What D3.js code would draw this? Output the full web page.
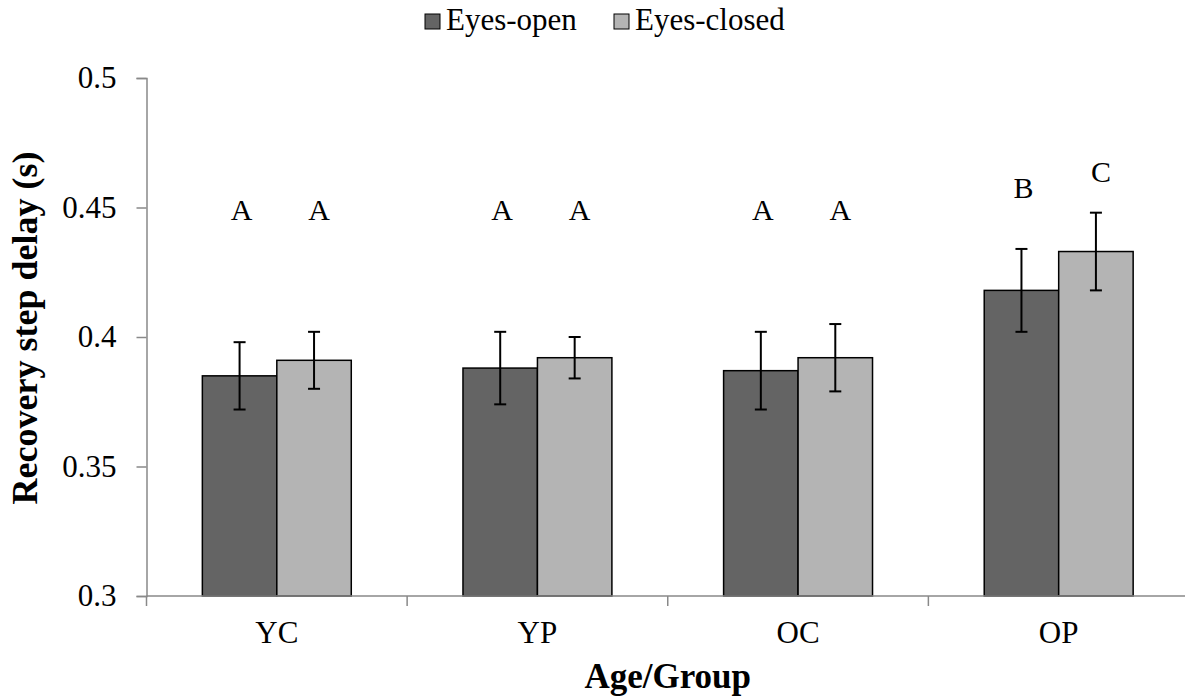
<!DOCTYPE html>
<html>
<head>
<meta charset="utf-8">
<script src="https://cdn.jsdelivr.net/npm/d3@7"></script>
<style>
  html, body { margin: 0; padding: 0; background: #fff; }
  svg { display: block; }
  svg text { font-family: "Liberation Serif", "Times New Roman", Times, "DejaVu Serif", serif !important; fill: #000; }
</style>
</head>
<body>
<svg id="chart" width="1185" height="698"></svg>
<script>
const categories = ["YC", "YP", "OC", "OP"];
const seriesNames = ["Eyes-open", "Eyes-closed"];
const eyesOpen = [0.385, 0.388, 0.387, 0.418];
const eyesClosed = [0.391, 0.392, 0.392, 0.433];
const errOpen = [0.013, 0.014, 0.015, 0.016];
const errClosed = [0.011, 0.008, 0.013, 0.015];
const lettersOpen = ["A", "A", "A", "B"];
const lettersClosed = ["A", "A", "A", "C"];
const letterLevelOpen = [0.445, 0.445, 0.445, 0.4535];
const letterLevelClosed = [0.445, 0.445, 0.445, 0.4598];
const yTicks = [0.3, 0.35, 0.4, 0.45, 0.5];
const yTickLabels = ["0.3", "0.35", "0.4", "0.45", "0.5"];
const xTitle = "Age/Group";
const yTitle = "Recovery step delay (s)";

(function () {
const colors = { "Eyes-open": "#646464", "Eyes-closed": "#b4b4b4" };
const letterShift = { "Eyes-open": 2, "Eyes-closed": 5 };
const axisColor = "#898989";
const serif = "'Liberation Serif', 'Times New Roman', Times, 'DejaVu Serif', serif";

const svg = d3.select("#chart");
const pLeft = 146.5, pRight = 1189, pTop = 78, pBottom = 596;

const x = d3.scaleBand().domain(categories).range([pLeft, pRight]).paddingInner(0).paddingOuter(0);
const xs = d3.scaleBand().domain(seriesNames).range([0, x.bandwidth()]).paddingInner(0).paddingOuter(0.75);
const y = d3.scaleLinear().domain([0.3, 0.5]).range([pBottom, pTop]);

const rows = categories.map((c, i) => ({
  cat: c,
  vals: [
    { s: "Eyes-open", v: eyesOpen[i], e: errOpen[i], l: lettersOpen[i], ll: letterLevelOpen[i] },
    { s: "Eyes-closed", v: eyesClosed[i], e: errClosed[i], l: lettersClosed[i], ll: letterLevelClosed[i] }
  ]
}));

// Bars
const groups = svg.append("g").selectAll("g").data(rows).join("g")
  .attr("transform", d => `translate(${x(d.cat)},0)`);

groups.selectAll("rect").data(d => d.vals).join("rect")
  .attr("x", d => xs(d.s))
  .attr("y", d => y(d.v))
  .attr("width", xs.bandwidth())
  .attr("height", d => y(0.3) - y(d.v))
  .attr("fill", d => colors[d.s])
  .attr("stroke", "#000")
  .attr("stroke-width", 1.5);

// Axes
const yAxis = d3.axisLeft(y).tickValues(yTicks)
  .tickFormat((d, i) => yTickLabels[i]).tickSize(10).tickPadding(20);
const gy = svg.append("g").attr("transform", `translate(${pLeft},0)`).call(yAxis);
gy.attr("font-family", null).attr("font-size", null);
gy.select(".domain").attr("stroke", axisColor).attr("stroke-width", 1.5);
gy.selectAll(".tick line").attr("stroke", axisColor).attr("stroke-width", 1.5);
gy.selectAll(".tick text").style("font-size", "31px").style("font-family", serif).attr("fill", "#000");

const xAxisG = svg.append("g").attr("transform", `translate(0,${pBottom})`);
xAxisG.append("line").attr("x1", pLeft).attr("x2", pRight).attr("stroke", axisColor).attr("stroke-width", 1.5);
const boundaries = categories.map(c => x(c)).concat([pRight]);
xAxisG.selectAll("line.tk").data(boundaries).join("line").attr("class", "tk")
  .attr("x1", d => d).attr("x2", d => d).attr("y1", 0).attr("y2", 10)
  .attr("stroke", axisColor).attr("stroke-width", 1.5);
xAxisG.selectAll("text.cat").data(categories).join("text").attr("class", "cat")
  .attr("x", d => x(d) + x.bandwidth() / 2)
  .attr("y", 47)
  .attr("text-anchor", "middle")
  .style("font-size", "31px").style("font-family", serif)
  .text(d => d);

// Error bars
const eb = groups.selectAll("g.eb").data(d => d.vals).join("g").attr("class", "eb");
eb.append("line")
  .attr("x1", d => xs(d.s) + xs.bandwidth() / 2).attr("x2", d => xs(d.s) + xs.bandwidth() / 2)
  .attr("y1", d => y(d.v + d.e)).attr("y2", d => y(d.v - d.e))
  .attr("stroke", "#000").attr("stroke-width", 2);
eb.selectAll("line.cap").data(d => [{ d, v: d.v + d.e }, { d, v: d.v - d.e }]).join("line").attr("class", "cap")
  .attr("x1", c => xs(c.d.s) + xs.bandwidth() / 2 - 6).attr("x2", c => xs(c.d.s) + xs.bandwidth() / 2 + 6)
  .attr("y1", c => y(c.v)).attr("y2", c => y(c.v))
  .attr("stroke", "#000").attr("stroke-width", 2);

// Letters
groups.selectAll("text.letter").data(d => d.vals).join("text").attr("class", "letter")
  .attr("x", d => xs(d.s) + xs.bandwidth() / 2 + letterShift[d.s])
  .attr("y", d => y(d.ll))
  .attr("text-anchor", "middle")
  .style("font-size", "30px").style("font-family", serif)
  .text(d => d.l);

// Axis titles
svg.append("text")
  .attr("x", (pLeft + pRight) / 2)
  .attr("y", 688)
  .attr("text-anchor", "middle")
  .style("font-size", "35px").style("font-family", serif)
  .style("font-weight", "bold")
  .text(xTitle);

svg.append("text")
  .attr("transform", `translate(37,328) rotate(-90)`)
  .attr("text-anchor", "middle")
  .style("font-size", "36px").style("font-family", serif)
  .style("font-weight", "bold")
  .text(yTitle);

// Legend
const legendX = [424, 613];
const lg = svg.append("g").selectAll("g").data(seriesNames).join("g")
  .attr("transform", (d, i) => `translate(${legendX[i]},0)`);
lg.append("rect").attr("x", 1).attr("y", 14).attr("width", 15).attr("height", 15)
  .attr("fill", d => colors[d]).attr("stroke", "#000").attr("stroke-width", 1);
lg.append("text").attr("x", 22).attr("y", 30)
  .style("font-size", "31px").style("font-family", serif).text(d => d);
})();
</script>
</body>
</html>
